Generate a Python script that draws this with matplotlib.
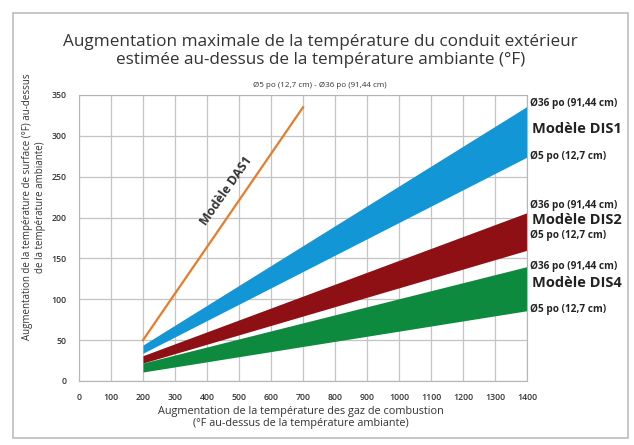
import matplotlib
matplotlib.use("Agg")
import matplotlib.pyplot as plt
from matplotlib.patches import Rectangle

plt.rcParams['font.family'] = ['Open Sans', 'DejaVu Sans']

# Data
x_band = [200, 1400]
dis1_low = [34, 274]
dis1_high = [44, 336]
dis2_low = [22, 160]
dis2_high = [31, 206]
dis4_low = [11, 86]
dis4_high = [22, 140]
das1_x = [200, 700]
das1_y = [50, 335]
x_ticks = list(range(0, 1401, 100))
y_ticks = list(range(0, 351, 50))

title = ("Augmentation maximale de la température du conduit extérieur\n"
         "estimée au-dessus de la température ambiante (°F)")
subtitle = "Ø5 po (12,7 cm) - Ø36 po (91,44 cm)"
xlabel = ("Augmentation de la température des gaz de combustion\n"
          "(°F au-dessus de la température ambiante)")
ylabel = ("Augmentation de la température de surface (°F) au-dessus\n"
          "de la température ambiante)")
big_label = "Ø36 po (91,44 cm)"
small_label = "Ø5 po (12,7 cm)"

fig = plt.figure(figsize=(6.34, 4.45), dpi=100)
fig.patch.set_facecolor('white')
fig.add_artist(Rectangle((13/634, 1 - 438/445), 615/634, 425/445,
                         transform=fig.transFigure, fill=False,
                         edgecolor='#bdbdbd', linewidth=1.2))

ax = fig.add_axes([79/634, 1 - 381/445, 448/634, 286/445])
ax.set_xlim(0, 1400)
ax.set_ylim(0, 350)
ax.set_xticks(x_ticks)
ax.set_yticks(y_ticks)
ax.grid(True, color='#c4c4c4', linewidth=0.9)
ax.set_axisbelow(True)
for s in ax.spines.values():
    s.set_color('#b5b5b5')
ax.tick_params(length=0, labelsize=6.3, colors='#333333', pad=9)
for lab in ax.get_xticklabels() + ax.get_yticklabels():
    lab.set_fontweight('semibold')

ax.fill_between(x_band, dis1_low, dis1_high, color='#1396d6', linewidth=0)
ax.fill_between(x_band, dis2_low, dis2_high, color='#8e0f14', linewidth=0)
ax.fill_between(x_band, dis4_low, dis4_high, color='#0d8a3e', linewidth=0)
ax.plot(das1_x, das1_y, color='#e87c2a', linewidth=1.6)

ax.text(459, 233, "Modèle DAS1", rotation=55, fontsize=9, fontweight='bold',
        color='#333333', ha='center', va='center')

fig.text(0.505, 0.885, title, ha='center', va='center', fontsize=12.3,
         color='#333333', linespacing=1.15)
fig.text(0.505, 0.807, subtitle, ha='center', va='center', fontsize=5.8,
         color='#333333')
fig.text(0.475, 0.062, xlabel, ha='center', va='center', fontsize=7.8,
         color='#333333', linespacing=1.2)
fig.text(0.054, 0.535, ylabel, ha='center', va='center', fontsize=7,
         color='#333333', rotation=90, linespacing=1.3)

def right_labels(y_big, y_model, y_small, name):
    fig.text(530/634, 1 - y_big/445, big_label, fontsize=7.2, fontweight='bold',
             color='#222222', va='center', ha='left')
    fig.text(532/634, 1 - y_model/445, name, fontsize=10.5, fontweight='bold',
             color='#222222', va='center', ha='left')
    fig.text(530/634, 1 - y_small/445, small_label, fontsize=7.2, fontweight='bold',
             color='#222222', va='center', ha='left')

right_labels(103, 129, 156, "Modèle DIS1")
right_labels(205, 220, 235, "Modèle DIS2")
right_labels(266, 283, 309, "Modèle DIS4")

fig.savefig("out.png", dpi=100, facecolor='white')
